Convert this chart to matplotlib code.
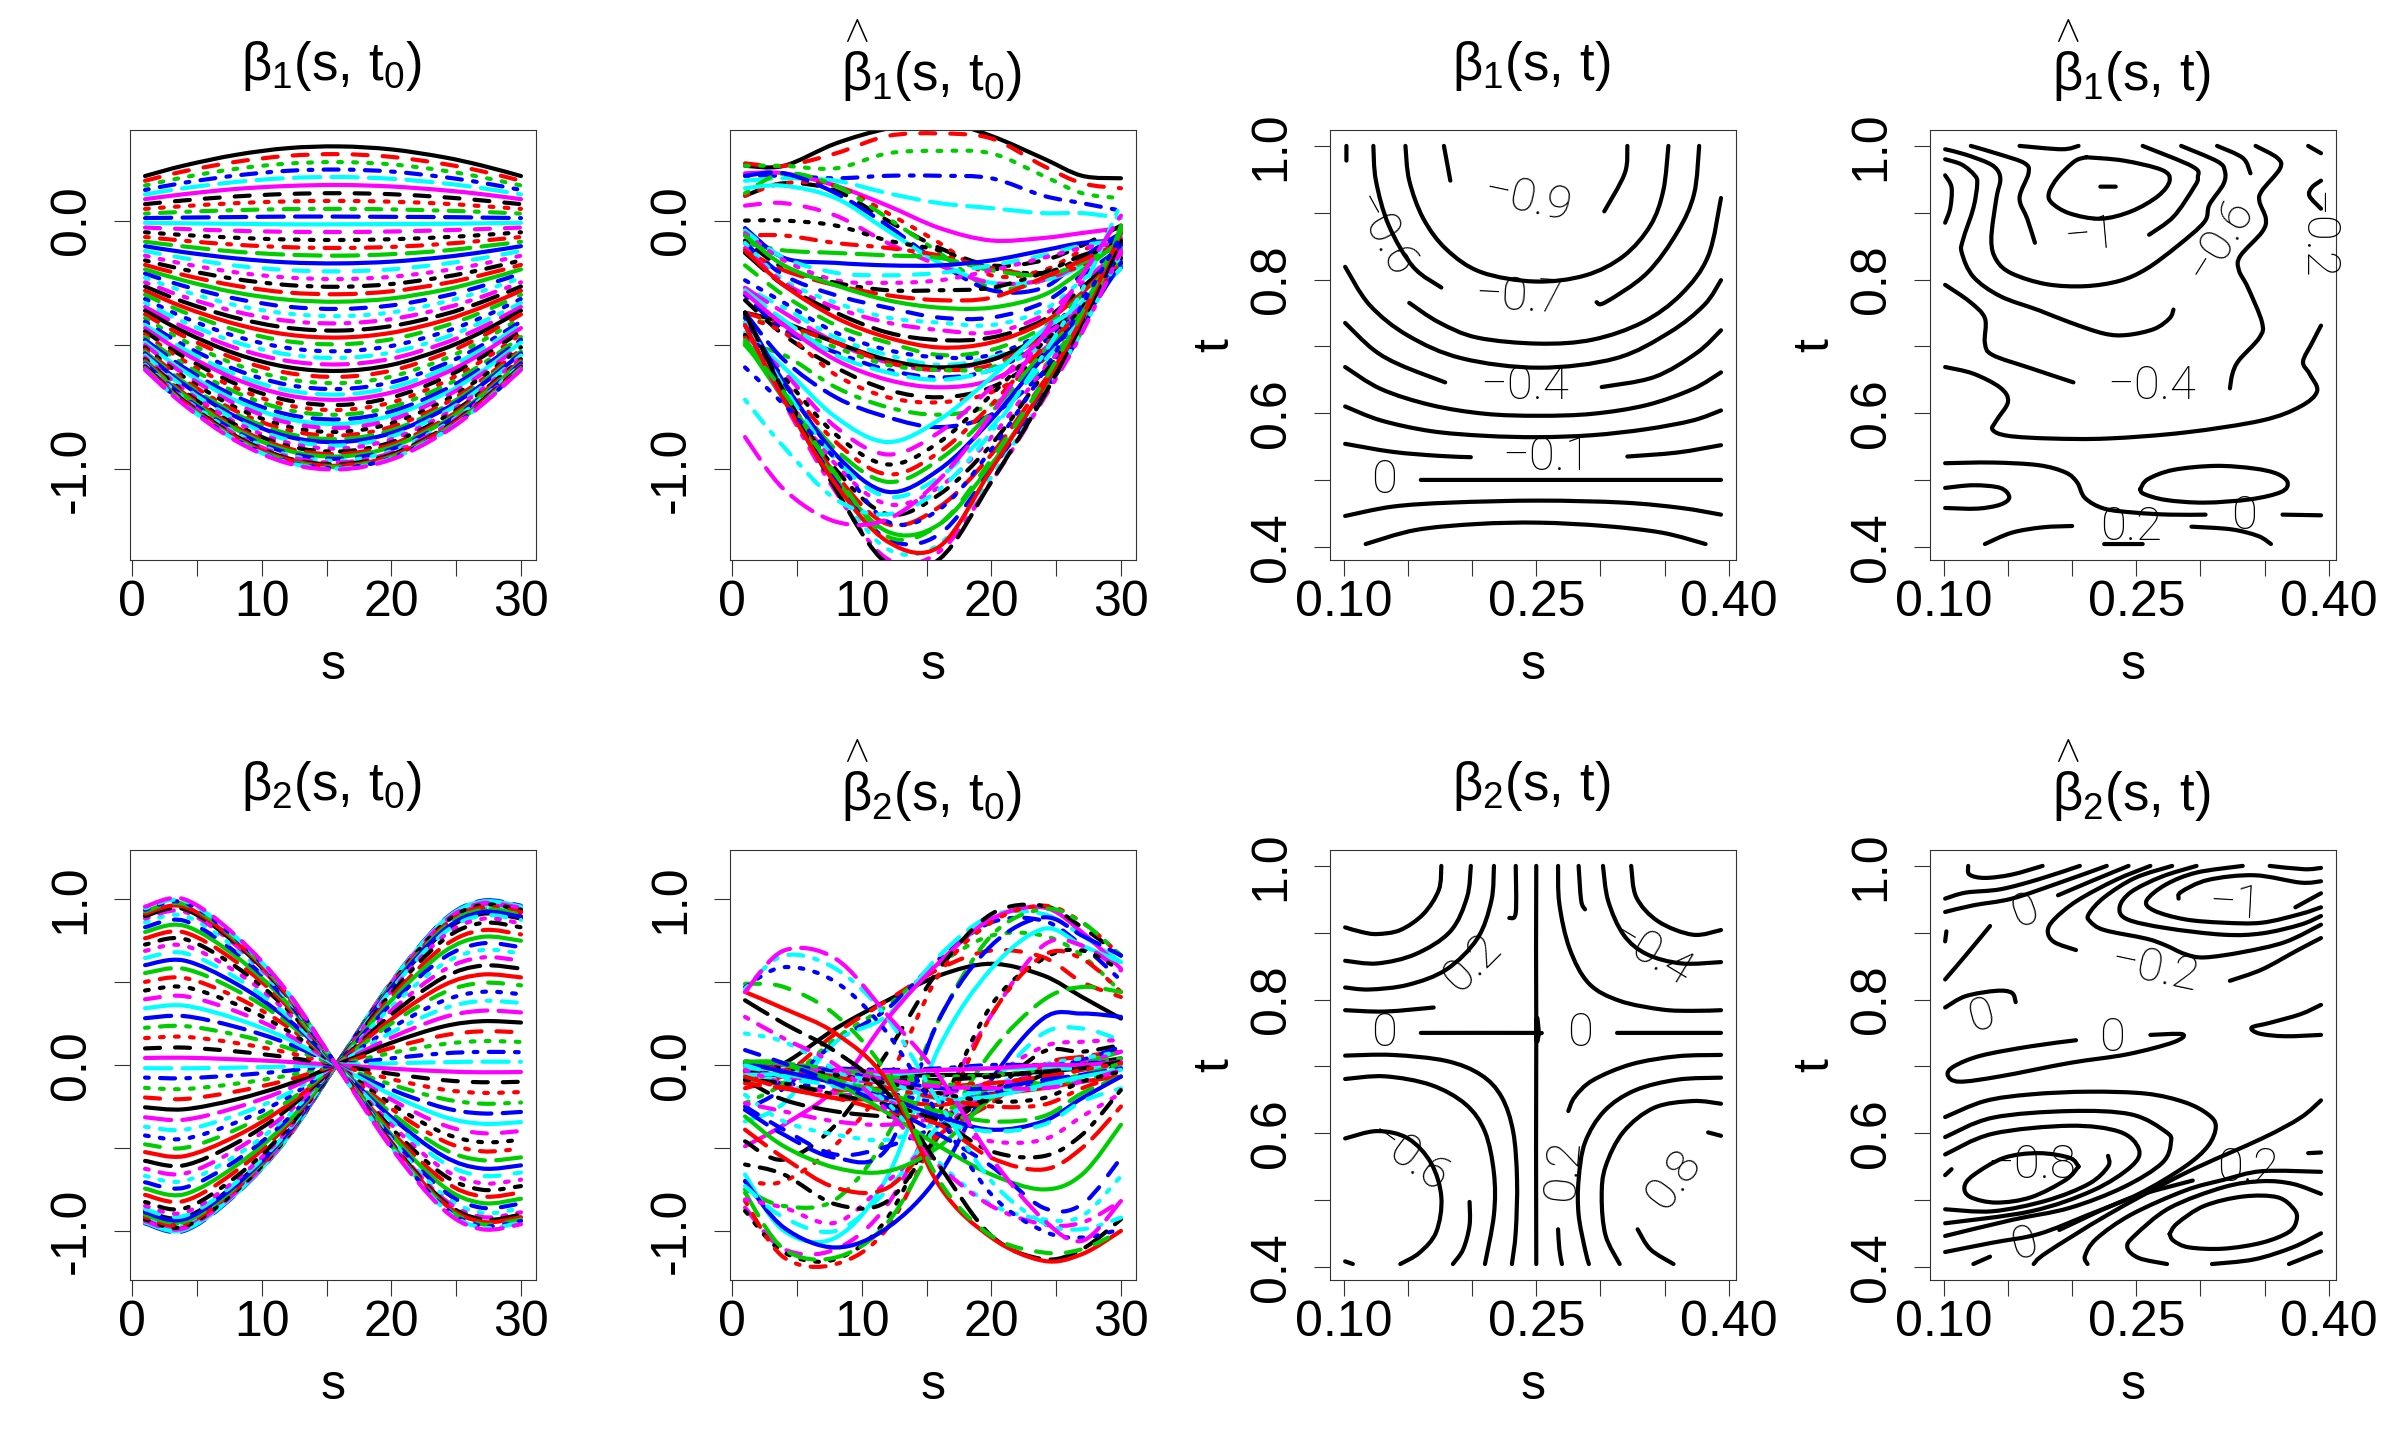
import numpy as np
import matplotlib
matplotlib.use("Agg")
import matplotlib.pyplot as plt
from matplotlib.path import Path
from matplotlib.patches import PathPatch

plt.rcParams['font.family'] = ['Liberation Sans', 'DejaVu Sans']
plt.rcParams['mathtext.fontset'] = 'custom'
plt.rcParams['mathtext.rm'] = 'Liberation Sans'
plt.rcParams['mathtext.it'] = 'Liberation Sans'
plt.rcParams['axes.unicode_minus'] = False

# curve values are read at these s positions
s_grid = [1, 4, 8, 12, 16, 20, 24, 27, 30]

beta1_true = [
[.179,.221,.264,.291,.298,.286,.255,.221,.179],[.160,.198,.236,.260,.267,.256,.228,.198,.160],
[.141,.174,.208,.229,.235,.226,.201,.174,.141],[.123,.152,.181,.200,.205,.197,.175,.152,.123],
[.105,.130,.155,.171,.175,.168,.150,.130,.105],[.086,.106,.127,.139,.143,.137,.122,.106,.086],
[.066,.081,.097,.107,.110,.106,.094,.081,.066],[.047,.058,.070,.077,.079,.076,.068,.058,.047],
[.028,.035,.042,.046,.047,.045,.040,.035,.028],[.010,.012,.014,.016,.016,.015,.014,.012,.010],
[-.009,-.011,-.013,-.015,-.015,-.014,-.013,-.011,-.009],[-.028,-.034,-.041,-.045,-.046,-.044,-.039,-.034,-.028],
[-.047,-.058,-.069,-.076,-.078,-.075,-.067,-.058,-.047],[-.066,-.081,-.097,-.107,-.110,-.106,-.094,-.081,-.066],
[-.085,-.104,-.125,-.137,-.141,-.135,-.121,-.104,-.085],[-.103,-.127,-.152,-.168,-.172,-.165,-.147,-.127,-.103],
[-.122,-.151,-.181,-.199,-.204,-.196,-.174,-.151,-.122],[-.141,-.174,-.208,-.229,-.235,-.226,-.201,-.174,-.141],
[-.160,-.197,-.235,-.259,-.266,-.255,-.227,-.197,-.160],[-.178,-.219,-.262,-.289,-.296,-.284,-.253,-.219,-.178],
[-.196,-.241,-.289,-.318,-.326,-.313,-.279,-.241,-.196],[-.213,-.263,-.314,-.346,-.355,-.341,-.304,-.263,-.213],
[-.230,-.284,-.340,-.374,-.384,-.369,-.328,-.284,-.230],[-.248,-.306,-.366,-.403,-.413,-.396,-.353,-.306,-.248],
[-.265,-.327,-.391,-.431,-.442,-.424,-.378,-.327,-.265],[-.282,-.348,-.416,-.458,-.470,-.451,-.402,-.348,-.282],
[-.298,-.368,-.440,-.485,-.497,-.477,-.425,-.368,-.298],[-.315,-.389,-.465,-.512,-.525,-.504,-.449,-.389,-.315],
[-.331,-.408,-.489,-.538,-.552,-.530,-.472,-.408,-.331],[-.347,-.428,-.512,-.564,-.578,-.555,-.494,-.428,-.347],
[-.362,-.447,-.535,-.589,-.604,-.580,-.516,-.447,-.362],[-.377,-.465,-.556,-.612,-.628,-.603,-.537,-.465,-.377],
[-.392,-.483,-.578,-.637,-.653,-.627,-.558,-.483,-.392],[-.406,-.501,-.599,-.660,-.677,-.650,-.579,-.501,-.406],
[-.419,-.517,-.619,-.682,-.699,-.671,-.598,-.517,-.419],[-.432,-.533,-.637,-.702,-.720,-.691,-.616,-.533,-.432],
[-.445,-.548,-.656,-.722,-.741,-.711,-.634,-.548,-.445],[-.457,-.563,-.673,-.742,-.761,-.731,-.651,-.563,-.457],
[-.468,-.577,-.690,-.761,-.780,-.749,-.667,-.577,-.468],[-.479,-.591,-.707,-.779,-.799,-.767,-.683,-.591,-.479],
[-.490,-.605,-.723,-.797,-.817,-.784,-.699,-.605,-.490],[-.500,-.616,-.737,-.812,-.833,-.800,-.712,-.616,-.500],
[-.509,-.628,-.751,-.828,-.849,-.815,-.726,-.628,-.509],[-.518,-.639,-.765,-.842,-.864,-.829,-.739,-.639,-.518],
[-.527,-.650,-.777,-.856,-.878,-.843,-.751,-.650,-.527],[-.534,-.659,-.788,-.868,-.890,-.854,-.761,-.659,-.534],
[-.542,-.669,-.800,-.881,-.904,-.868,-.773,-.669,-.542],[-.550,-.678,-.811,-.893,-.916,-.879,-.783,-.678,-.550],
[-.557,-.687,-.821,-.905,-.928,-.891,-.793,-.687,-.557],[-.563,-.694,-.830,-.915,-.938,-.900,-.802,-.694,-.563],
[-.569,-.702,-.839,-.924,-.948,-.910,-.811,-.702,-.569],[-.574,-.708,-.847,-.933,-.957,-.919,-.818,-.708,-.574],
[-.579,-.714,-.854,-.941,-.965,-.926,-.825,-.714,-.579],[-.583,-.719,-.860,-.948,-.972,-.933,-.831,-.719,-.583],
[-.587,-.724,-.866,-.955,-.979,-.940,-.837,-.724,-.587],[-.591,-.729,-.872,-.960,-.985,-.946,-.842,-.729,-.591],
[-.594,-.733,-.876,-.965,-.990,-.950,-.846,-.733,-.594],[-.596,-.736,-.880,-.969,-.994,-.954,-.850,-.736,-.596],
[-.598,-.738,-.882,-.972,-.997,-.957,-.852,-.738,-.598],[-.600,-.740,-.885,-.975,-1.0,-.960,-.855,-.740,-.600],
]

beta1_hat = [
[.22,.22,.31,.37,.40,.34,.25,.18,.17],[.23,.22,.27,.34,.35,.33,.22,.15,.13],[.22,.22,.21,.27,.28,.27,.18,.11,.09],
[.18,.18,.17,.18,.18,.17,.10,.07,.04],[.16,.17,.16,.11,.07,.05,.03,.03,.01],[.19,.19,.14,.06,-.03,-.08,-.07,-.05,-.03],
[.10,.15,.12,0,-.11,-.18,-.16,-.10,-.02],[.10,.15,.14,.03,-.09,-.22,-.20,-.12,-.06],[.11,.19,.14,.01,-.13,-.27,-.24,-.15,-.04],
[.18,.19,.11,-.02,-.17,-.28,-.27,-.15,-.05],[.13,.14,.09,-.04,-.17,-.25,-.24,-.18,-.06],[.06,.07,.02,-.09,-.18,-.25,-.24,-.17,-.07],
[0,0,-.02,-.08,-.12,-.19,-.21,-.15,-.08],[-.06,-.06,-.09,-.11,-.14,-.19,-.22,-.18,-.09],[-.09,-.12,-.13,-.14,-.15,-.20,-.22,-.17,-.09],
[-.03,-.15,-.17,-.18,-.18,-.16,-.12,-.09,-.08],[-.04,-.15,-.21,-.22,-.21,-.18,-.14,-.10,-.08],[-.05,-.16,-.24,-.25,-.24,-.20,-.15,-.11,-.09],
[-.08,-.19,-.25,-.28,-.28,-.27,-.21,-.14,-.10],[-.12,-.20,-.26,-.30,-.32,-.31,-.23,-.16,-.09],[-.06,-.18,-.26,-.32,-.35,-.35,-.30,-.20,-.08],
[-.09,-.22,-.30,-.35,-.39,-.39,-.33,-.22,-.11],[-.09,-.24,-.33,-.39,-.41,-.42,-.36,-.24,-.12],[-.11,-.25,-.35,-.41,-.44,-.45,-.38,-.25,-.12],
[-.13,-.26,-.37,-.45,-.48,-.47,-.40,-.27,-.13],[-.12,-.26,-.39,-.47,-.51,-.49,-.41,-.29,-.13],[-.18,-.30,-.42,-.49,-.54,-.52,-.43,-.30,-.14],
[-.24,-.33,-.45,-.52,-.55,-.54,-.45,-.31,-.14],[-.27,-.35,-.47,-.54,-.58,-.55,-.47,-.33,-.15],[-.27,-.37,-.49,-.57,-.60,-.56,-.47,-.34,-.16],
[-.37,-.41,-.49,-.56,-.59,-.56,-.46,-.34,-.17],[-.37,-.42,-.49,-.57,-.60,-.58,-.47,-.36,-.18],[-.39,-.43,-.51,-.58,-.60,-.59,-.48,-.35,-.18],
[-.30,-.44,-.53,-.60,-.63,-.60,-.49,-.35,-.19],[-.28,-.40,-.54,-.61,-.64,-.60,-.50,-.36,-.19],[-.29,-.42,-.56,-.64,-.67,-.64,-.52,-.35,-.13],
[-.32,-.46,-.59,-.68,-.71,-.67,-.54,-.37,-.15],[-.39,-.45,-.62,-.71,-.73,-.69,-.56,-.37,-.16],[-.50,-.54,-.67,-.75,-.78,-.74,-.59,-.39,-.15],
[-.37,-.56,-.71,-.79,-.83,-.78,-.61,-.41,-.17],[-.45,-.59,-.79,-.89,-.80,-.63,-.44,-.33,-.11],[-.46,-.61,-.83,-.94,-.85,-.67,-.47,-.34,-.12],
[-.46,-.63,-.86,-.98,-.89,-.70,-.49,-.35,-.09],[-.47,-.65,-.89,-1.02,-.93,-.74,-.51,-.36,-.10],[-.48,-.67,-.92,-1.05,-.96,-.77,-.53,-.37,-.11],
[-.38,-.65,-.94,-1.09,-1.0,-.80,-.55,-.38,-.12],[-.39,-.67,-.96,-1.11,-1.03,-.83,-.57,-.39,-.12],[-.41,-.69,-.98,-1.14,-1.07,-.87,-.60,-.41,-.13],
[-.37,-.69,-1.0,-1.18,-1.10,-.90,-.62,-.42,-.11],[-.42,-.71,-1.02,-1.22,-1.15,-.94,-.65,-.43,-.09],[-.49,-.72,-1.04,-1.25,-1.22,-.98,-.68,-.44,-.02],
[-.39,-.71,-1.05,-1.28,-1.26,-1.0,-.70,-.44,-.09],[-.41,-.72,-1.07,-1.32,-1.30,-1.03,-.71,-.44,-.13],[-.42,-.73,-1.09,-1.36,-1.33,-1.05,-.72,-.45,-.12],
[-.37,-.69,-1.08,-1.38,-1.36,-1.05,-.71,-.41,-.08],[-.42,-.72,-1.06,-1.29,-1.31,-1.0,-.67,-.39,-.05],[-.50,-.69,-1.02,-1.27,-1.22,-.96,-.65,-.37,-.04],
[-.59,-.74,-.96,-1.21,-1.16,-.92,-.61,-.34,-.06],[-.72,-.91,-1.12,-1.18,-1.08,-.85,-.54,-.28,.07],[-.87,-1.08,-1.21,-1.20,-1.04,-.78,-.46,-.22,.02],
]

beta2_true = [
[-.879,-.92,-.718,-.405,.028,.46,.80,.911,.883],[-.893,-.935,-.729,-.411,.028,.468,.813,.926,.898],
[-.907,-.95,-.741,-.418,.029,.475,.827,.941,.912],[-.917,-.96,-.749,-.422,.029,.48,.835,.95,.922],
[-.926,-.97,-.757,-.427,.029,.485,.844,.96,.931],[-.936,-.98,-.764,-.431,.029,.49,.853,.97,.941],
[-.941,-.985,-.768,-.433,.03,.493,.857,.975,.946],[-.945,-.99,-.772,-.436,.03,.495,.861,.98,.95],
[-.95,-.995,-.776,-.438,.03,.498,.866,.985,.955],[-.955,-1,-.78,-.44,.03,.5,.87,.99,.96],
[-.95,-.995,-.776,-.438,.03,.498,.866,.985,.955],[-.941,-.985,-.768,-.433,.03,.493,.857,.975,.946],
[-.931,-.975,-.761,-.429,.029,.488,.848,.965,.936],[-.917,-.96,-.749,-.422,.029,.48,.835,.95,.922],
[-.902,-.945,-.737,-.416,.028,.473,.822,.936,.907],[-.888,-.93,-.725,-.409,.028,.465,.809,.921,.893],
[-.869,-.91,-.71,-.40,.027,.455,.792,.901,.874],[-.85,-.89,-.694,-.392,.027,.445,.774,.881,.854],
[-.826,-.865,-.675,-.381,.026,.433,.753,.856,.83],[-.783,-.82,-.64,-.361,.025,.41,.713,.812,.787],
[-.745,-.78,-.608,-.343,.023,.39,.679,.772,.749],[-.707,-.74,-.577,-.326,.022,.37,.644,.733,.71],
[-.669,-.70,-.546,-.308,.021,.35,.609,.693,.672],[-.626,-.655,-.511,-.288,.02,.328,.57,.648,.629],
[-.578,-.605,-.472,-.266,.018,.303,.526,.599,.581],[-.525,-.55,-.429,-.242,.017,.275,.479,.545,.528],
[-.478,-.5,-.39,-.22,.015,.25,.435,.495,.48],[-.425,-.445,-.347,-.196,.013,.223,.387,.441,.427],
[-.372,-.39,-.304,-.172,.012,.195,.339,.386,.374],[-.315,-.33,-.257,-.145,.01,.165,.287,.327,.317],
[-.255,-.267,-.208,-.117,.008,.134,.232,.264,.256],[-.196,-.205,-.16,-.09,.006,.103,.178,.203,.197],
[-.138,-.145,-.113,-.064,.004,.073,.126,.144,.139],[-.076,-.08,-.062,-.035,.002,.04,.07,.079,.077],
[-.019,-.02,-.016,-.009,.001,.01,.017,.02,.019],[.042,.044,.034,.019,-.001,-.022,-.038,-.044,-.042],
[.10,.105,.082,.046,-.003,-.053,-.091,-.104,-.101],[.162,.17,.133,.075,-.005,-.085,-.148,-.168,-.163],
[.224,.235,.183,.103,-.007,-.118,-.204,-.233,-.226],[.282,.295,.23,.13,-.009,-.148,-.257,-.292,-.283],
[.342,.358,.279,.158,-.011,-.179,-.311,-.354,-.344],[.396,.415,.324,.183,-.012,-.208,-.361,-.411,-.398],
[.449,.47,.367,.207,-.014,-.235,-.409,-.465,-.451],[.501,.525,.41,.231,-.016,-.263,-.457,-.52,-.504],
[.554,.58,.452,.255,-.017,-.29,-.505,-.574,-.557],[.602,.63,.491,.277,-.019,-.315,-.548,-.624,-.605],
[.645,.675,.527,.297,-.02,-.338,-.587,-.668,-.648],[.688,.72,.562,.317,-.022,-.36,-.626,-.713,-.691],
[.726,.76,.593,.334,-.023,-.38,-.661,-.752,-.73],[.764,.8,.624,.352,-.024,-.4,-.696,-.792,-.768],
[.802,.84,.655,.37,-.025,-.42,-.731,-.832,-.806],[.831,.87,.679,.383,-.026,-.435,-.757,-.861,-.835],
[.86,.9,.702,.396,-.027,-.45,-.783,-.891,-.864],[.883,.925,.722,.407,-.028,-.463,-.805,-.916,-.888],
[.898,.94,.733,.414,-.028,-.47,-.818,-.931,-.902],[.912,.955,.745,.42,-.029,-.478,-.831,-.945,-.917],
[.926,.97,.757,.427,-.029,-.485,-.844,-.96,-.931],[.936,.98,.764,.431,-.029,-.49,-.853,-.97,-.941],
[.945,.99,.772,.436,-.03,-.495,-.861,-.98,-.95],[.955,1,.78,.44,-.03,-.5,-.87,-.99,-.96],
]

beta2_hat = [
[-.06,.01,.22,.39,.54,.61,.54,.41,.28],[-.14,-.06,.19,.39,.58,.69,.65,.50,.41],[-.23,-.11,.16,.36,.61,.78,.78,.66,.44],
[-.27,-.14,.14,.34,.64,.86,.87,.72,.51],[-.34,-.23,.14,.30,.66,.90,.91,.78,.62],[-.49,-.36,-.14,.28,.62,.88,.95,.80,.58],
[-.46,-.57,-.36,.08,.58,.91,.96,.83,.66],[-.70,-.70,-.48,-.09,.55,.86,.96,.86,.66],[-.75,-.85,-.81,-.42,.28,.78,.94,.86,.66],
[-.27,-.42,-.56,-.50,.28,.72,.89,.78,.66],[-.66,-1.0,-1.04,-.67,.11,.58,.82,.72,.62],[-.86,-1.11,-1.11,-.84,-.25,.30,.72,.72,.57],
[-.88,-1.13,-1.17,-.92,-.28,.36,.64,.69,.57],[-.82,-1.16,-1.20,-.98,-.36,.30,.66,.64,.44],[-.77,-1.11,-1.16,-.95,-.42,.08,.39,.47,.44],
[-.70,-.98,-1.10,-.98,-.66,-.09,.28,.31,.29],[-.73,-.92,-1.0,-.75,-.36,-.11,.19,.22,.15],[-.81,-.86,-.95,-.70,-.42,-.09,.11,.14,.15],
[-.60,-.66,-.84,-.82,-.42,-.17,.08,.08,.12],[-.39,-.56,-.74,-.74,-.42,-.23,0,.05,.08],[-.31,-.49,-.62,-.64,-.49,-.20,-.06,.01,.08],
[-.25,-.39,-.54,-.49,-.36,-.17,-.03,.03,.11],[-.18,-.34,-.42,-.45,-.34,-.14,0,.04,.08],[-.23,-.28,-.34,-.36,-.31,-.17,-.03,.01,.08],
[-.09,-.21,-.28,-.31,-.31,-.20,-.06,0,.04],[-.04,-.13,-.20,-.21,-.24,-.18,-.14,-.10,-.07],[-.09,-.11,-.17,-.22,-.28,-.14,-.11,-.09,-.03],
[-.09,-.11,-.14,-.17,-.22,-.17,-.11,-.06,.01],[-.06,-.09,-.11,-.14,-.20,-.15,-.14,-.07,0],[-.03,-.07,-.09,-.11,-.17,-.11,-.09,-.06,.01],
[-.06,-.06,-.07,-.07,-.06,-.06,-.04,-.02,0],[-.11,-.14,-.15,-.14,-.13,-.11,-.07,-.03,.02],[.02,.01,-.03,-.06,-.07,-.06,-.03,.01,.04],
[.01,0,-.02,-.03,-.02,0,0,.01,.02],[-.06,-.06,-.09,-.06,-.03,-.02,-.02,-.02,0],[.01,0,-.03,-.04,-.03,-.02,0,0,.02],
[-.03,-.04,-.07,-.09,-.09,-.07,-.04,-.02,.02],[-.02,-.03,-.06,-.10,-.11,-.11,-.07,-.03,.01],[.01,.01,-.03,-.07,-.11,-.14,-.10,-.06,.01],
[.02,0,-.04,-.09,-.14,-.14,-.09,-.06,-.02],[-.02,-.03,-.06,-.11,-.20,-.19,-.12,-.07,-.03],[0,-.03,-.04,-.09,-.13,-.14,-.14,-.10,-.03],
[0,-.02,-.06,-.11,-.17,-.22,-.20,-.10,-.04],[.01,-.03,-.07,-.14,-.20,-.25,-.24,-.14,-.06],[.02,0,-.09,-.17,-.28,-.34,-.31,-.17,-.07],
[.01,-.04,-.11,-.20,-.31,-.39,-.34,-.20,-.07],[0,-.07,-.13,-.21,-.34,-.40,-.36,-.22,-.14],[-.03,-.11,-.17,-.22,-.36,-.46,-.45,-.31,-.17],
[-.09,-.11,-.18,-.24,-.34,-.52,-.55,-.42,-.15],[-.07,-.14,-.20,-.28,-.36,-.56,-.63,-.50,-.25],[.02,.01,-.11,-.29,-.49,-.66,-.75,-.66,-.36],
[.09,.01,-.11,-.25,-.42,-.61,-.86,-.84,-.56],[.19,.14,-.03,-.23,-.59,-.84,-.93,-.91,-.67],[.29,.16,0,-.28,-.61,-.85,-.96,-.95,-.82],
[.39,.25,.08,-.17,-.61,-1.03,-1.17,-1.11,-.93],[.44,.34,.19,-.10,-.73,-1.04,-1.18,-1.14,-1.0],[.49,.47,.30,-.06,-.70,-1.03,-1.13,-1.11,-1.0],
[.47,.59,.50,.19,-.31,-.78,-1.0,-1.04,-.99],[.46,.66,.58,.28,-.23,-.70,-.95,-.99,-.92],[.44,.69,.64,.30,-.07,-.56,-.93,-1.06,-.82],
]

# contour lines as (s, t) vertices, contour labels as (text, s, t, angle)
contour_b1_true = [
[(.102,1),(.102,.978)],
[(.123,1),(.125,.948),(.135,.881),(.154,.819),(.176,.788)],
[(.377,1),(.373,.928),(.360,.871),(.336,.809),(.304,.766),(.297,.766)],
[(.148,1),(.151,.948),(.162,.891),(.180,.845),(.207,.811),(.249,.797),(.288,.806),(.318,.835),(.339,.881),(.349,.933),(.353,1)],
[(.178,1),(.183,.948)],
[(.321,1),(.319,.959),(.303,.902)],
[(.151,.765),(.174,.736),(.204,.713),(.252,.704),(.294,.710),(.333,.736),(.363,.778),(.384,.835),(.394,.922)],
[(.101,.819),(.120,.762),(.150,.716),(.192,.682),(.252,.668),(.312,.682),(.354,.721),(.381,.762),(.394,.799)],
[(.101,.735),(.123,.695),(.144,.672),(.179,.646)],
[(.301,.639),(.342,.654),(.375,.690),(.394,.724)],
[(.101,.669),(.129,.636),(.168,.612),(.210,.599),(.252,.596),(.294,.599),(.336,.612),(.372,.636),(.394,.661)],
[(.101,.610),(.129,.589),(.168,.573),(.210,.566),(.252,.564),(.294,.567),(.336,.576),(.372,.589),(.394,.604)],
[(.101,.554),(.138,.542),(.174,.536),(.199,.534)],
[(.321,.535),(.360,.541),(.394,.552)],
[(.160,.5),(.394,.5)],
[(.101,.446),(.138,.460),(.183,.466),(.252,.469),(.318,.466),(.363,.458),(.394,.448)],
[(.117,.404),(.156,.425),(.204,.434),(.252,.436),(.303,.431),(.348,.421),(.382,.404)],
]
labels_b1_true = [("−0.9",.243,.920,-12),("−0.6",.130,.866,-61),("−0.7",.237,.773,-3),
                  ("−0.4",.241,.641,0),("−0.1",.258,.535,0),("0",.131,.500,0)]

contour_b1_hat = [
[(.101,.995),(.117,.987),(.135,.974),(.142,.963),(.144,.948),(.141,.922),(.137,.860),(.141,.829),(.153,.809),(.180,.793),(.210,.790),(.237,.798),(.258,.816),(.282,.850),(.303,.886),(.307,.912),(.318,.943),(.319,.963),(.313,.977),(.285,1.0)],
[(.101,.980),(.114,.972),(.124,.956),(.126,.943),(.123,.907),(.115,.860),(.114,.840),(.123,.804),(.144,.775),(.174,.754),(.198,.736),(.225,.719),(.243,.717),(.264,.726),(.276,.742),(.279,.755)],
[(.343,1),(.360,.982),(.362,.966),(.348,.933),(.346,.917),(.351,.891),(.348,.871),(.331,.835),(.330,.814),(.337,.788),(.348,.736),(.346,.713),(.330,.679),(.325,.659),(.323,.637)],
[(.101,.792),(.120,.767),(.132,.742),(.132,.705),(.138,.687),(.168,.667),(.201,.646)],
[(.101,.669),(.123,.659),(.144,.638),(.150,.617),(.141,.589),(.138,.575),(.150,.566),(.183,.562),(.228,.562),(.288,.571),(.348,.589),(.378,.610),(.391,.633),(.385,.659),(.380,.677),(.387,.705),(.394,.731)],
[(.121,1),(.144,.987),(.163,.974),(.166,.959),(.159,.922),(.165,.891),(.171,.855)],
[(.101,.956),(.106,.938),(.105,.907),(.101,.885)],
[(.159,1),(.192,.995),(.205,1)],
[(.211,.983),(.240,.978),(.270,.964),(.276,.948),(.267,.925),(.246,.902),(.222,.891),(.198,.899),(.184,.915),(.182,.930),(.189,.953),(.202,.977),(.211,.983)],
[(.222,.939),(.234,.939)],
[(.260,.867),(.279,.894),(.295,.938),(.298,.953),(.294,.969),(.255,1)],
[(.313,1),(.333,.982),(.339,.959)],
[(.384,1),(.394,.989)],
[(.394,.948),(.387,.938),(.385,.925),(.394,.906)],
[(.101,.525),(.138,.526),(.174,.522),(.195,.511),(.204,.496),(.210,.473),(.225,.457),(.249,.451),(.276,.448),(.304,.448)],
[(.364,.448),(.394,.447)],
[(.101,.488),(.123,.492),(.144,.488),(.151,.474),(.144,.463),(.126,.457),(.101,.458)],
[(.253,.486),(.259,.501),(.279,.515),(.312,.521),(.342,.517),(.360,.509),(.368,.496),(.363,.482),(.339,.471),(.303,.466),(.273,.470),(.256,.479),(.253,.486)],
[(.132,.404),(.153,.421),(.177,.429),(.200,.431)],
[(.293,.430),(.324,.426),(.345,.416),(.355,.404)],
[(.225,.404),(.255,.404)],
]
labels_b1_hat = [("−0.4",.262,.641,0),("−1",.214,.866,5),("−0.6",.315,.860,58),
                 ("−0.2",.390,.866,-90),("0.2",.246,.429,0),("0",.334,.446,0)]

contour_b2_true = [
[(.176,1),(.174,.964),(.162,.928),(.144,.904),(.126,.898),(.114,.901),(.101,.908)],
[(.199,1),(.196,.953),(.183,.902),(.156,.868),(.126,.854),(.101,.858)],
[(.217,1),(.215,.948),(.204,.891),(.180,.845),(.150,.822),(.120,.815),(.101,.818)],
[(.234,1),(.234,.930),(.229,.922)],
[(.250,1),(.250,.757),(.252,.750),(.250,.746),(.250,.404)],
[(.267,1),(.268,.943),(.276,.876),(.291,.824),(.315,.798),(.348,.785),(.372,.783),(.394,.784)],
[(.283,1),(.285,.948),(.288,.935)],
[(.302,1),(.306,.948),(.318,.897),(.336,.868),(.363,.854),(.394,.856)],
[(.324,1),(.328,.953),(.345,.917),(.372,.897),(.394,.904)],
[(.101,.784),(.132,.782),(.170,.788)],
[(.160,.750),(.246,.750),(.252,.749)],
[(.313,.750),(.394,.750)],
[(.101,.716),(.138,.717),(.180,.708),(.207,.687),(.223,.654),(.232,.602),(.235,.530),(.234,.452),(.231,.404)],
[(.101,.681),(.132,.685),(.168,.672),(.195,.643),(.210,.602),(.217,.540),(.217,.478),(.210,.404)],
[(.101,.592),(.126,.603),(.150,.592),(.168,.555),(.176,.504),(.172,.452),(.159,.421),(.144,.404)],
[(.198,.497),(.198,.462),(.193,.426),(.185,.404)],
[(.101,.408),(.107,.404)],
[(.394,.717),(.360,.715),(.324,.703),(.294,.679),(.280,.654),(.275,.633)],
[(.394,.683),(.360,.680),(.327,.664),(.303,.633),(.288,.586),(.283,.530),(.283,.478),(.288,.426),(.291,.404)],
[(.394,.644),(.372,.648),(.342,.638),(.318,.602),(.304,.550),(.301,.504),(.304,.447),(.315,.404)],
[(.267,.456),(.268,.426),(.270,.404)],
[(.329,.456),(.339,.426),(.357,.404)],
[(.384,.601),(.394,.596)],
]
labels_b2_true = [("0.2",.200,.855,45),("−0.4",.339,.868,-31),("−0.6",.150,.563,-36),("0",.131,.750,0),
                  ("0",.284,.750,0),("0.2",.271,.545,85),("0.8",.357,.530,53)]

contour_b2_hat = [
[(.119,1),(.120,.987),(.132,.982),(.153,.987),(.177,1)],
[(.101,.951),(.117,.960),(.144,.965),(.174,.980),(.206,1)],
[(.101,.931),(.123,.941),(.153,.951),(.189,.974),(.227,1)],
[(.189,.956),(.216,.978),(.244,1)],
[(.261,1),(.234,.979),(.204,.948),(.186,.920),(.181,.902),(.186,.886),(.203,.874)],
[(.278,1),(.249,.982),(.225,.953),(.213,.928),(.214,.917),(.225,.904),(.258,.891),(.273,.881),(.288,.868),(.303,.863),(.333,.871),(.366,.886),(.394,.912)],
[(.323,.828),(.348,.845),(.375,.873),(.394,.892)],
[(.297,1),(.270,.984),(.246,.961),(.237,.938),(.243,.920),(.273,.907),(.318,.897),(.348,.899),(.378,.912),(.394,.925)],
[(.333,1),(.297,.990),(.273,.972),(.258,.948),(.264,.933),(.288,.920),(.318,.915),(.348,.915),(.378,.928),(.394,.938)],
[(.283,.951),(.285,.961),(.306,.979),(.342,.986),(.378,.975),(.394,.977)],
[(.354,1),(.381,.995),(.394,.997)],
[(.374,.938),(.394,.959)],
[(.102,.902),(.101,.887)],
[(.101,.830),(.117,.866),(.136,.910)],
[(.101,.788),(.117,.805),(.141,.813),(.153,.810),(.156,.796)],
[(.203,.739),(.168,.730),(.129,.716),(.108,.700),(.103,.687),(.112,.677),(.144,.685),(.198,.705),(.243,.718),(.279,.736),(.286,.748),(.261,.747)],
[(.394,.792),(.378,.778),(.354,.765),(.340,.758),(.346,.749),(.366,.745),(.394,.747)],
[(.101,.624),(.132,.648),(.168,.658),(.213,.662),(.258,.659),(.288,.646),(.306,.628),(.312,.610),(.306,.581),(.288,.550),(.252,.509),(.213,.478),(.174,.449),(.138,.436),(.101,.422)],
[(.101,.594),(.138,.623),(.198,.633),(.246,.628),(.273,.602),(.277,.586),(.270,.555),(.240,.519),(.198,.488),(.153,.470),(.101,.446)],
[(.101,.568),(.138,.599),(.198,.611),(.237,.602),(.252,.576),(.246,.550),(.216,.514),(.168,.483),(.101,.465)],
[(.228,.566),(.228,.550),(.213,.524),(.180,.499),(.138,.483),(.101,.486)],
[(.205,.550),(.198,.563),(.174,.570),(.147,.563),(.123,.537),(.116,.519),(.121,.504),(.141,.496),(.168,.504),(.195,.530),(.205,.550)],
[(.101,.537),(.106,.546)],
[(.170,.404),(.180,.421),(.228,.478),(.288,.540),(.348,.592),(.378,.623),(.394,.649)],
[(.190,.455),(.243,.501),(.294,.529)],
[(.212,.404),(.210,.416),(.219,.442),(.246,.478),(.288,.514),(.318,.530),(.348,.543),(.394,.542)],
[(.394,.509),(.372,.524),(.348,.528),(.318,.519),(.276,.488),(.249,.447),(.243,.429),(.252,.413),(.274,.404)],
[(.276,.449),(.282,.465),(.303,.491),(.333,.505),(.360,.504),(.373,.486),(.375,.470),(.369,.452),(.348,.436),(.318,.427),(.291,.429),(.279,.439),(.276,.449)],
[(.309,.404),(.342,.411),(.372,.429),(.394,.450)],
[(.369,.404),(.394,.423)],
[(.384,.570),(.394,.571)],
[(.123,.404),(.136,.415)],
]
labels_b2_hat = [("−1",.327,.943,-3),("0",.163,.932,20),("−0.2",.264,.845,-12),("0",.129,.775,15),
                 ("0",.231,.743,0),("−0.8",.168,.553,0),("0.2",.337,.548,0),("0",.163,.434,15)]

# R default matplot cycles
colors = ['black', 'red', '#00CD00', 'blue', 'cyan', 'magenta']
dashes = ['-', (0, (3.6, 3.6)), (0, (.9, 2.7)), (0, (.9, 2.7, 3.6, 2.7)), (0, (6.3, 2.7))]
lw = 3.0


def smooth_patch(pts, **kw):
    # bezier path through the read vertices, so arcs do not look polygonal
    pts = np.asarray(pts, dtype=float)
    n = len(pts)
    verts = [pts[0]]
    codes = [Path.MOVETO]
    for k in range(n - 1):
        p0, p1, p2, p3 = pts[max(k - 1, 0)], pts[k], pts[k + 1], pts[min(k + 2, n - 1)]
        verts += [p1 + (p2 - p0) / 6, p2 - (p3 - p1) / 6, p2]
        codes += [Path.CURVE4] * 3
    return PathPatch(Path(verts, codes), fill=False, capstyle='round', joinstyle='round', **kw)


def make_axes(row, col):
    ax = fig.add_axes([(130 + 600 * col) / 2400, 1 - (560 + 720 * row) / 1440, 406 / 2400, 430 / 1440])
    for sp in ax.spines.values():
        sp.set_linewidth(0.8)
        sp.set_color('#333333')
    ax.tick_params(axis='both', length=11.5, width=0.8, color='#333333', labelsize=36)
    ax.tick_params(axis='x', pad=3)
    ax.tick_params(axis='y', pad=14)
    return ax


def set_y_labels(ax, ticks, labels):
    ax.set_yticks(ticks)
    ax.set_yticklabels(labels, rotation=90, va='center')


def curve_panel(row, col, rows, ylim, yticks, ylabels, title, hat):
    ax = make_axes(row, col)
    for i, r in enumerate(rows):
        ax.add_patch(smooth_patch(np.column_stack([s_grid, r]), edgecolor=colors[i % 6],
                                  linestyle=dashes[i % 5], linewidth=lw))
    ax.set_xlim(-0.16, 31.16)
    ax.set_ylim(*ylim)
    ax.set_xticks([0, 5, 10, 15, 20, 25, 30])
    ax.set_xticklabels(['0', '', '10', '', '20', '', '30'])
    set_y_labels(ax, yticks, ylabels)
    decorate(row, col, title, hat, False)


def contour_panel(row, col, lines, labels, title, hat):
    ax = make_axes(row, col)
    for ln in lines:
        ax.add_patch(smooth_patch(ln, edgecolor='black', linewidth=lw))
    for txt, s, t, ang in labels:
        ax.text(s, t, txt, family='Roboto', fontweight=200, fontsize=34, rotation=ang,
                ha='center', va='center', rotation_mode='anchor')
    ax.set_xlim(0.0892, 0.4057)
    ax.set_ylim(0.3801, 1.0238)
    ax.set_xticks([.10, .15, .20, .25, .30, .35, .40])
    ax.set_xticklabels(['0.10', '', '', '0.25', '', '', '0.40'])
    set_y_labels(ax, [.4, .5, .6, .7, .8, .9, 1.0], ['0.4', '', '0.6', '', '0.8', '', '1.0'])
    decorate(row, col, title, hat, True)


def decorate(row, col, title, hat, with_t):
    x0 = 331 + 600 * col
    y0 = 720 * row
    base = 91 if hat else 80
    fig.text(x0 / 2400, 1 - (base + y0) / 1440, title, fontsize=38, ha='center', va='baseline')
    fig.text((x0 + 2) / 2400, 1 - (679 + y0) / 1440, 's', fontsize=36, ha='center', va='baseline')
    if with_t:
        fig.text((15 + 600 * col) / 2400, 1 - (345 + y0) / 1440, 't', fontsize=36,
                 rotation=90, ha='center', va='center')


fig = plt.figure(figsize=(24, 14.4), dpi=100)

y1 = (-1.364, 0.364)
y2 = (-1.296, 1.296)
curve_panel(0, 0, beta1_true, y1, [0, -.5, -1], ['0.0', '', '-1.0'], r'$\mathrm{β_1(s,\,t_0)}$', False)
curve_panel(0, 1, beta1_hat, y1, [0, -.5, -1], ['0.0', '', '-1.0'], r'$\mathrm{\overset{\wedge}{β}_1(s,\,t_0)}$', True)
contour_panel(0, 2, contour_b1_true, labels_b1_true, r'$\mathrm{β_1(s,\,t)}$', False)
contour_panel(0, 3, contour_b1_hat, labels_b1_hat, r'$\mathrm{\overset{\wedge}{β}_1(s,\,t)}$', True)
curve_panel(1, 0, beta2_true, y2, [1, .5, 0, -.5, -1], ['1.0', '', '0.0', '', '-1.0'], r'$\mathrm{β_2(s,\,t_0)}$', False)
curve_panel(1, 1, beta2_hat, y2, [1, .5, 0, -.5, -1], ['1.0', '', '0.0', '', '-1.0'], r'$\mathrm{\overset{\wedge}{β}_2(s,\,t_0)}$', True)
contour_panel(1, 2, contour_b2_true, labels_b2_true, r'$\mathrm{β_2(s,\,t)}$', False)
contour_panel(1, 3, contour_b2_hat, labels_b2_hat, r'$\mathrm{\overset{\wedge}{β}_2(s,\,t)}$', True)

fig.savefig('out.png', dpi=100)
